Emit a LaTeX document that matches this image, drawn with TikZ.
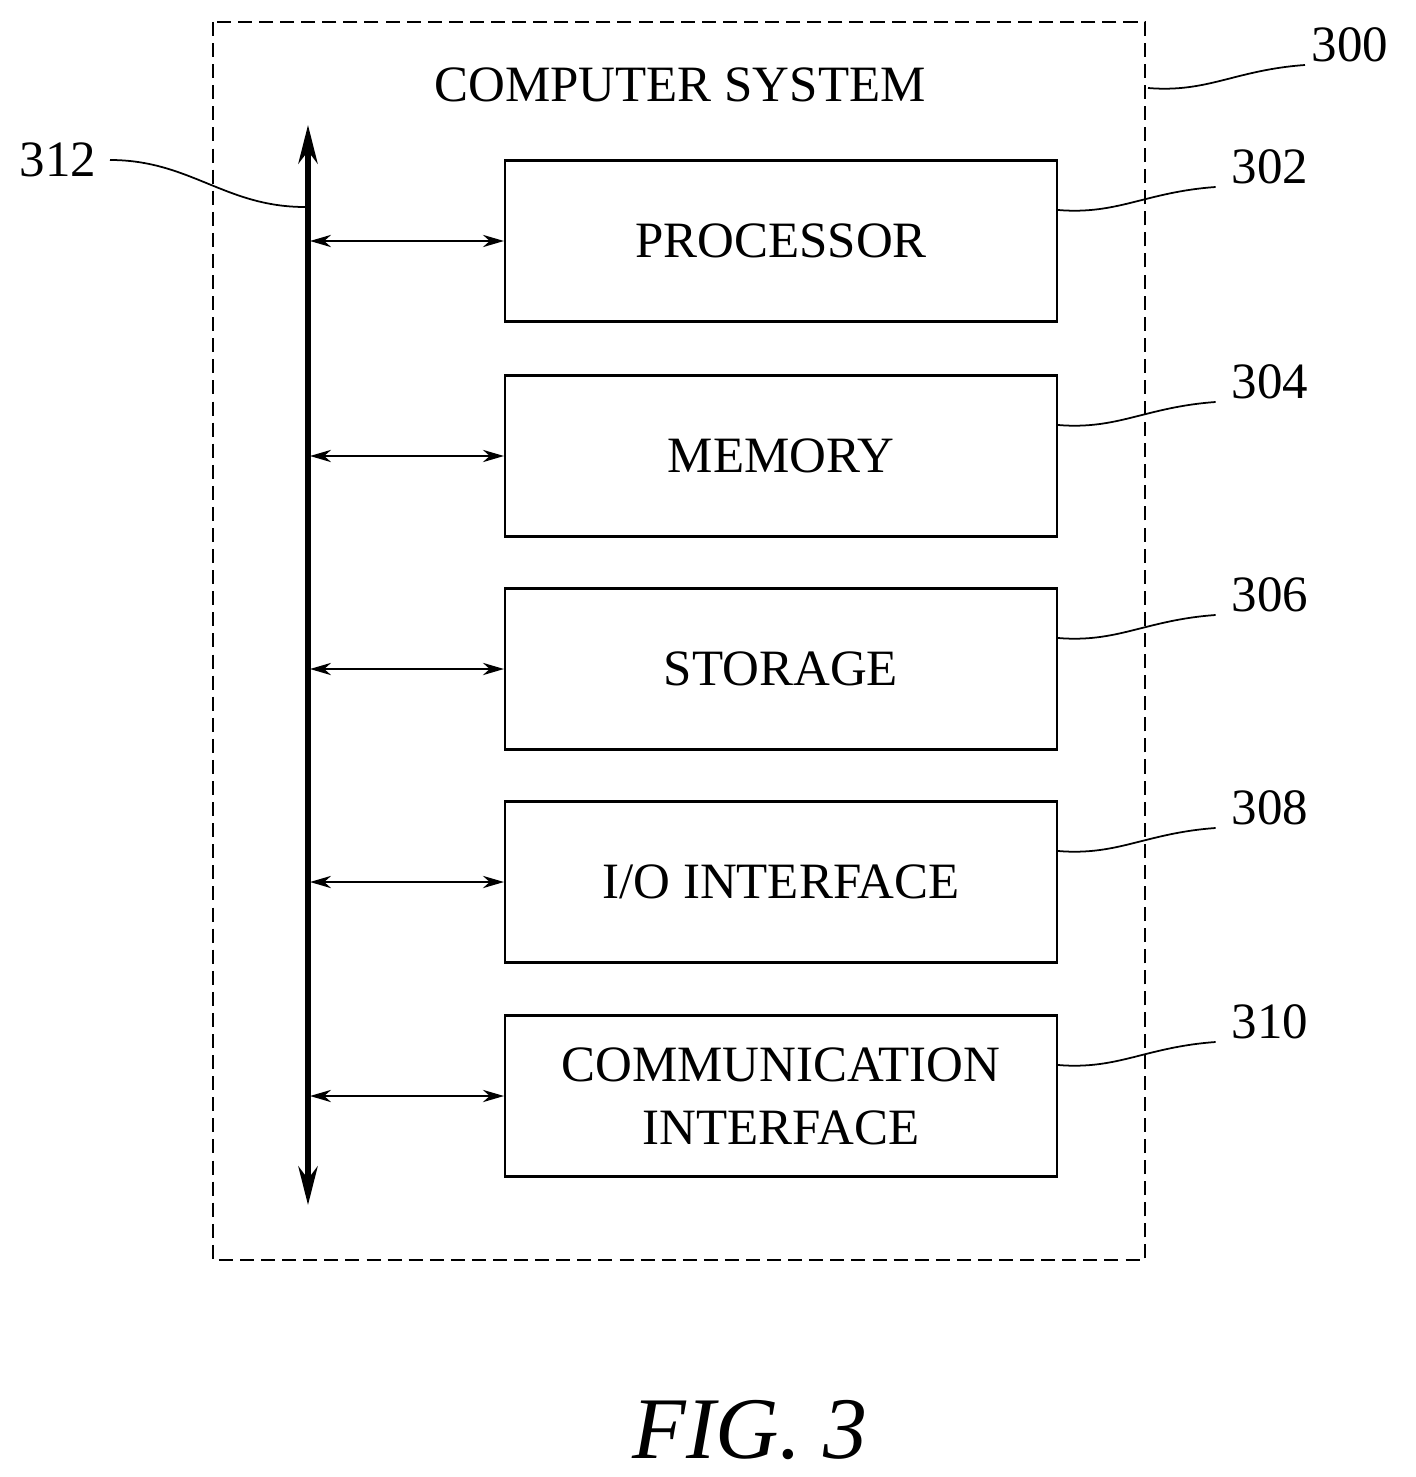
\documentclass[tikz,border=0pt]{standalone}
\usepackage{fontspec}
\setmainfont{Liberation Serif}
\usetikzlibrary{arrows.meta}
\usetikzlibrary{calc}
\tikzset{
	unit/.style={draw,line width=1.2pt,minimum width=552*0.02cm,minimum height=161*0.02cm,align=center,font=\fontsize{29}{36}\selectfont},
	tag/.style={font=\fontsize{29}{36}\selectfont},
	lead/.style={line width=1pt},
	link/.style={line width=1pt,{Stealth[length=12pt,width=7pt]}-{Stealth[length=12pt,width=7pt]}}
}

\begin{document}
\begin{tikzpicture}[x=0.02cm,y=-0.02cm]
	\useasboundingbox (0,0) rectangle (1416,1477);
	\draw[dashed,line width=1.2pt,dash pattern=on 8pt off 4pt] (213,22) rectangle (1145,1260);
	\node[tag] (title) at (680,85) {COMPUTER SYSTEM};
	% system bus
	\coordinate (bustop) at (308,125);
	\coordinate (busbot) at (308,1205);
	\draw[line width=3pt,{Stealth[length=22pt,width=11pt]}-{Stealth[length=22pt,width=11pt]}] (bustop) -- (busbot);
	% units on the bus
	\foreach \nm/\yy/\txt/\num in {proc/241/PROCESSOR/302,mem/456/MEMORY/304,stor/669/STORAGE/306,io/882/{I/O INTERFACE}/308,comm/1096/{COMMUNICATION\\INTERFACE}/310}{
		\node[unit] (\nm) at (781,\yy) {\txt};
		\coordinate (\nm bus) at (310,\yy);
		\draw[link] (\nm bus) -- (\nm.west);
		\node[tag] (\nm tag) at (1270,\yy-74) {\num};
		\draw[lead] ($(\nm.east)+(0,-31)$) .. controls +(60,5) and +(-70,5) .. ($(\nm tag.west)+(-10,20)$);
	}
	\node[tag] (systag) at (1350,45) {300};
	\draw[lead] (1148,88) .. controls +(60,5) and +(-70,5) .. (1305,65);
	\node[tag] (bustag) at (58,160) {312};
	\draw[lead] (110,160) .. controls +(80,0) and +(-80,0) .. (305,207);
	\node[font=\fontsize{50}{60}\selectfont\itshape] (fig) at (750,1430) {FIG. 3};
\end{tikzpicture}
\end{document}
